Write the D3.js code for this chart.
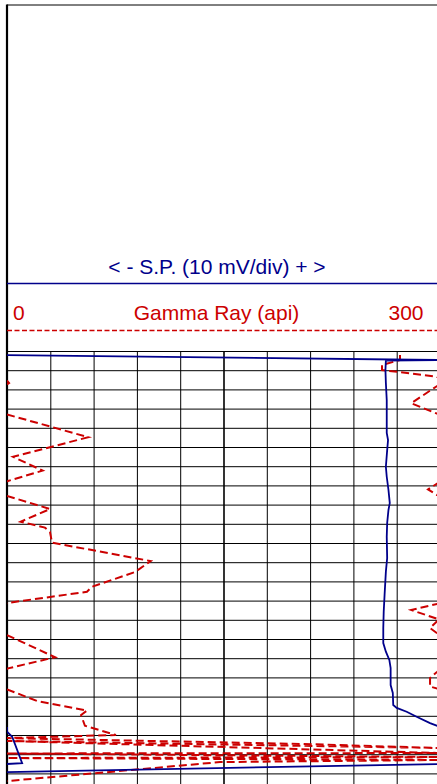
<!DOCTYPE html>
<html>
<head>
<meta charset="utf-8">
<script src="https://d3js.org/d3.v7.min.js"></script>
<style>
  body { margin: 0; background: #fff; }
  svg { display: block; }
</style>
</head>
<body>
<div id="log"></div>
<script>

// Set dimensions for the log
const width = 437;
const height = 784;
const track = {left: 7, right: 440, top: 351, bottom: 792.6};

const spColor = "#00008b";
const grColor = "#cc0000";

// Grid / scale values
const depthRange = [1000, 1230];
const depthTicks = d3.range(1000, 1231, 10);
const grRange = [0, 300];
const grTicks = d3.range(0, 301, 30);
const spRange = [-50, 50];

// Header labels
const spLabel = "< - S.P. (10 mV/div) + >";
const grLabel = "Gamma Ray (api)";
const grMinLabel = "0";
const grMaxLabel = "300";

// S.P. curve (depth ft, mV) -- values past +50 wrap back onto the track
const spDepth = [1002.1, 1004.7, 1004.95, 1009.9, 1016.7, 1025.5, 1042.7, 1046.4, 1051.6, 1060.3,
  1065.5, 1072.4, 1079.2, 1082.8, 1089.6, 1096.7, 1107.8, 1114.9, 1127.1, 1135.8,
  1144.3, 1152.1, 1156.6, 1160.9, 1165.1, 1174.0, 1178.1, 1184.4, 1185.9, 1187.9,
  1190.5, 1193.8, 1195.8, 1198.3, 1200.9, 1214.7, 1215.1, 1219.3];
const spValue = [-50, 50, 37.5, 37.4, 37.5, 37.7, 37.7, 38.0, 37.8, 37.5,
  37.7, 38.1, 38.4, 38.1, 37.8, 37.7, 37.8, 37.5, 37.2, 37.0,
  36.9, 36.9, 37.5, 38.3, 38.6, 38.6, 39.1, 39.2, 40.0, 42.3,
  44.6, 47.7, 50, 50, 51.2, 53.5, 50, -50];

// Gamma ray curve (depth ft, api) -- values over 300 wrap back to the left
const grDepth = [1002.1, 1004.7, 1007.3, 1009.9, 1013.4, 1016.7, 1019.3, 1027.2, 1032.6, 1044.9,
  1055.1, 1062.3, 1067.7, 1072.1, 1075.0, 1082.3, 1088.9, 1092.0, 1094.3, 1099.8,
  1109.4, 1115.1, 1122.8, 1125.4, 1131.1, 1134.9, 1139.8, 1144.3, 1147.7, 1159.5,
  1165.3, 1167.2, 1170.3, 1174.8, 1176.0, 1182.3, 1187.3, 1189.6, 1195.2, 1200.0,
  1201.6, 1204.7, 1206.8, 1203.1, 1209.4, 1209.6, 1211.5, 1212.0, 1213.0, 1214.1, 1224.0];
const grValue = [272.3, 272.3, 259.8, 259.8, 297.9, 301.4, 295.8, 280.1, 297.9, 356.3,
  304.2, 324.7, 300.7, 291.7, 297.9, 329.8, 309.5, 326.3, 329.8, 331.2,
  399.6, 388.7, 358.9, 355.4, 301.4, 280.1, 299.3, 293.1, 299.3, 333.3,
  300.7, 297.9, 293.1, 293.1, 299.3, 320.8, 355.4, 351.3, 354.0, 375.5,
  300, 505.8, 600, 300, 600, 300, 600, 300, 600, 447.6, 300];

const svg = d3.select("#log")
  .append("svg")
  .attr("width", width)
  .attr("height", height)
  .attr("viewBox", [0, 0, width, height]);

// scales
const yScale = d3.scaleLinear().domain(depthRange).range([track.top, track.bottom]);
const grScale = d3.scaleLinear().domain(grRange).range([track.left, track.right]);
const spScale = d3.scaleLinear().domain(spRange).range([track.left, track.right]);

/*
  Grid
*/
svg.append("g")
  .attr("class", "xgrid")
  .attr("transform", `translate(0,${track.top})`)
  .call(d3.axisBottom(grScale).tickValues(grTicks).tickSize(track.bottom - track.top).tickFormat(""))
  .call(g => g.select(".domain").remove())
  .call(g => g.selectAll("line").attr("stroke", "#000").attr("stroke-width", (d) => d === 150 ? 1.6 : 1));

svg.append("g")
  .attr("class", "ygrid")
  .attr("transform", `translate(${track.left},0)`)
  .call(d3.axisRight(yScale).tickValues(depthTicks).tickSize(track.right - track.left).tickFormat(""))
  .call(g => g.select(".domain").remove())
  .call(g => g.selectAll("line").attr("stroke", "#000").attr("stroke-width", 1));

// borders
svg.append("line")
  .attr("x1", track.left).attr("x2", width)
  .attr("y1", 5).attr("y2", 5)
  .attr("stroke", "#000").attr("stroke-width", 1);

svg.append("line")
  .attr("x1", track.left).attr("x2", track.left)
  .attr("y1", 4.5).attr("y2", height)
  .attr("stroke", "#000").attr("stroke-width", 2.2);

/*
  Header
*/
svg.append("text")
  .attr("x", 217).attr("y", 274)
  .attr("text-anchor", "middle")
  .attr("font-family", "'Liberation Sans', Arial, sans-serif")
  .attr("font-size", "21px")
  .attr("fill", spColor)
  .text(spLabel);

svg.append("line")
  .attr("x1", track.left).attr("x2", width)
  .attr("y1", 283.5).attr("y2", 283.5)
  .attr("stroke", spColor).attr("stroke-width", 1.6);

const grHeader = svg.append("g")
  .attr("font-family", "'Liberation Sans', Arial, sans-serif")
  .attr("font-size", "21px")
  .attr("fill", grColor);

grHeader.append("text").attr("x", 13).attr("y", 320).text(grMinLabel);
grHeader.append("text").attr("x", 216.5).attr("y", 320).attr("text-anchor", "middle").text(grLabel);
grHeader.append("text").attr("x", 423.5).attr("y", 320).attr("text-anchor", "end").text(grMaxLabel);

svg.append("line")
  .attr("x1", track.left).attr("x2", width)
  .attr("y1", 330.5).attr("y2", 330.5)
  .attr("stroke", grColor).attr("stroke-width", 1.6)
  .attr("stroke-dasharray", "5,2.5");

/*
  Curves
*/

// splits a curve into pieces so values past the scale wrap back onto the track
function wrapPieces(depths, values, lo, span) {
  const pieces = [];
  let cur = null;
  for (let i = 0; i < depths.length - 1; i++) {
    const a = {d: depths[i], v: values[i]};
    const b = {d: depths[i + 1], v: values[i + 1]};
    const pts = [a];
    const vmin = Math.min(a.v, b.v), vmax = Math.max(a.v, b.v);
    const cuts = [];
    for (let k = Math.floor((vmin - lo) / span) + 1; lo + k * span < vmax; k++) {
      const c = lo + k * span;
      if (c > vmin) cuts.push(c);
    }
    if (a.v > b.v) cuts.reverse();
    cuts.forEach(c => {
      const t = (c - a.v) / (b.v - a.v);
      pts.push({d: a.d + t * (b.d - a.d), v: c});
    });
    pts.push(b);
    for (let j = 0; j < pts.length - 1; j++) {
      const p = pts[j], q = pts[j + 1];
      const band = Math.floor(((p.v + q.v) / 2 - lo) / span);
      if (!cur || cur.band !== band) {
        cur = {band: band, pts: [p]};
        pieces.push(cur);
      }
      cur.pts.push(q);
    }
  }
  return pieces;
}

svg.append("clipPath")
  .attr("id", "trackClip")
  .append("rect")
  .attr("x", track.left).attr("y", track.top - 5)
  .attr("width", track.right - track.left)
  .attr("height", track.bottom - track.top + 5);

const curves = svg.append("g").attr("clip-path", "url(#trackClip)");

const grPieces = wrapPieces(grDepth, grValue, grRange[0], grRange[1] - grRange[0]);
curves.selectAll(".gr")
  .data(grPieces)
  .enter()
  .append("path")
    .attr("class", "gr")
    .attr("fill", "none")
    .attr("stroke", grColor)
    .attr("stroke-width", 2)
    .attr("stroke-dasharray", "8,4")
    .attr("d", (p) => d3.line()
      .x(d => grScale(d.v - p.band * 300))
      .y(d => yScale(d.d))(p.pts));

const spPieces = wrapPieces(spDepth, spValue, spRange[0], spRange[1] - spRange[0]);
curves.selectAll(".sp")
  .data(spPieces)
  .enter()
  .append("path")
    .attr("class", "sp")
    .attr("fill", "none")
    .attr("stroke", spColor)
    .attr("stroke-width", 1.8)
    .attr("d", (p) => d3.line()
      .x(d => spScale(d.v - p.band * 100))
      .y(d => yScale(d.d))(p.pts));

</script>
</body>
</html>
